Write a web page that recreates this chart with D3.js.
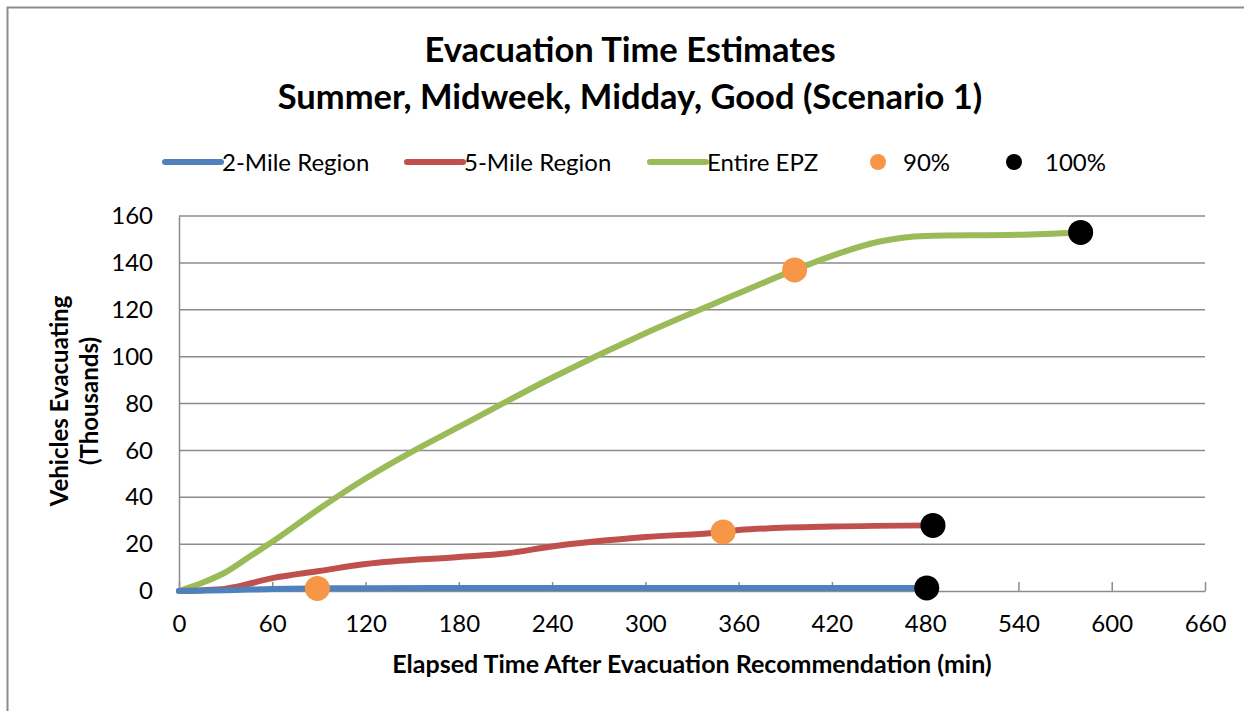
<!DOCTYPE html>
<html>
<head>
<meta charset="utf-8">
<script src="https://cdn.jsdelivr.net/npm/d3@7"></script>
<style>
  body { margin: 0; background: #fff; }
  svg { display: block; font-family: Lato, "Open Sans", sans-serif; }
</style>
</head>
<body>
<div class="chart"></div>
<script>
// data (minutes, thousands of vehicles)
var timeGreen = [0, 15, 30, 45, 60, 90, 120, 150, 180, 240, 300, 360, 396, 420, 450, 480, 540, 580];
var entireEPZ = [0, 3.5, 8, 14.5, 21, 35, 48, 59.5, 70, 91, 110, 127, 137, 143, 149, 151.5, 152, 153];
var timeRed = [0, 30, 60, 90, 120, 180, 210, 240, 300, 350, 360, 420, 485];
var fiveMile = [0, 1, 5.5, 8.5, 11.5, 14.5, 16, 19, 23, 25.2, 26, 27.5, 28];
var timeBlue = [0, 30, 60, 89, 120, 240, 360, 481];
var twoMile = [0, 0.3, 0.9, 1.1, 1.2, 1.25, 1.3, 1.3];
var pct90 = [[89, 1.1], [350, 25.2], [396, 137]];
var pct100 = [[481, 1.3], [485, 28], [580, 153]];
var xTicks = [0, 60, 120, 180, 240, 300, 360, 420, 480, 540, 600, 660];
var yTicks = [0, 20, 40, 60, 80, 100, 120, 140, 160];

var w = 1244, h = 711;
var plotLeft = 179, plotRight = 1205, plotTop = 216, plotBottom = 591;

var svg = d3.select(".chart").append("svg")
  .attr("width", w)
  .attr("height", h);

// chart frame (only left and top edges show)
svg.append("path")
  .attr("d", "M7.5," + h + "V7.5H" + w)
  .attr("fill", "none")
  .attr("stroke", "#8c8c8c")
  .attr("stroke-width", 2);

var x = d3.scaleLinear().domain([0, 660]).range([plotLeft, plotRight]);
var y = d3.scaleLinear().domain([0, 160]).range([plotBottom, plotTop]);

// gridlines
svg.append("g")
  .selectAll("line")
  .data(yTicks.slice(1))
  .enter().append("line")
  .attr("x1", plotLeft).attr("x2", plotRight)
  .attr("y1", function(d) { return y(d); })
  .attr("y2", function(d) { return y(d); })
  .attr("stroke", "#8c8c8c")
  .attr("stroke-width", 1.5);

// y axis
var yAxis = svg.append("g")
  .attr("transform", "translate(" + plotLeft + ",0)")
  .call(d3.axisLeft(y).tickValues(yTicks).tickSize(0).tickPadding(26));
yAxis.select(".domain").attr("stroke", "#8c8c8c").attr("stroke-width", 1.5);
yAxis.selectAll("text").attr("font-size", "24px").attr("fill", "#000")
  .attr("font-family", "Lato, sans-serif");

// x axis, ticks pointing inward
var xAxis = svg.append("g")
  .attr("transform", "translate(0," + plotBottom + ")")
  .call(d3.axisBottom(x).tickValues(xTicks).tickSizeInner(-9).tickSizeOuter(0).tickPadding(24));
xAxis.select(".domain").attr("stroke", "#8c8c8c").attr("stroke-width", 1.5);
xAxis.selectAll(".tick line").attr("stroke", "#8c8c8c").attr("stroke-width", 1.5);
xAxis.selectAll("text").attr("font-size", "24px").attr("fill", "#000")
  .attr("font-family", "Lato, sans-serif");

var line = d3.line()
  .x(function(d) { return x(d[0]); })
  .y(function(d) { return y(d[1]); })
  .curve(d3.curveMonotoneX);

function zip(a, b) {
  return a.map(function(v, i) { return [v, b[i]]; });
}

var series = [
  { name: "Entire EPZ", color: "#9BBB59", pts: zip(timeGreen, entireEPZ) },
  { name: "5-Mile Region", color: "#C0504D", pts: zip(timeRed, fiveMile) },
  { name: "2-Mile Region", color: "#4F81BD", pts: zip(timeBlue, twoMile) }
];

svg.append("g")
  .selectAll("path")
  .data(series)
  .enter().append("path")
  .attr("d", function(d) { return line(d.pts); })
  .attr("fill", "none")
  .attr("stroke", function(d) { return d.color; })
  .attr("stroke-width", 6)
  .attr("stroke-linecap", "round");

svg.append("g")
  .selectAll("circle")
  .data(pct90)
  .enter().append("circle")
  .attr("cx", function(d) { return x(d[0]); })
  .attr("cy", function(d) { return y(d[1]); })
  .attr("r", 12.5)
  .attr("fill", "#F79646");

svg.append("g")
  .selectAll("circle")
  .data(pct100)
  .enter().append("circle")
  .attr("cx", function(d) { return x(d[0]); })
  .attr("cy", function(d) { return y(d[1]); })
  .attr("r", 12.5)
  .attr("fill", "#000");

// titles
svg.append("text")
  .attr("x", 630).attr("y", 62)
  .attr("text-anchor", "middle")
  .attr("font-size", "34.5px").attr("font-weight", "bold")
  .text("Evacuation Time Estimates");
svg.append("text")
  .attr("x", 630).attr("y", 109)
  .attr("text-anchor", "middle")
  .attr("font-size", "34.5px").attr("font-weight", "bold")
  .text("Summer, Midweek, Midday, Good (Scenario 1)");

svg.append("text")
  .attr("x", (plotLeft + plotRight) / 2).attr("y", 673)
  .attr("text-anchor", "middle")
  .attr("font-size", "25px").attr("font-weight", "bold")
  .text("Elapsed Time After Evacuation Recommendation (min)");

var yTitle = svg.append("text")
  .attr("transform", "translate(0,401) rotate(-90)")
  .attr("text-anchor", "middle")
  .attr("font-size", "24px").attr("font-weight", "bold");
yTitle.append("tspan").attr("x", 0).attr("y", 68).text("Vehicles Evacuating");
yTitle.append("tspan").attr("x", 0).attr("y", 98).text("(Thousands)");

// legend
var legendLines = [
  { name: "2-Mile Region", color: "#4F81BD", x: 165 },
  { name: "5-Mile Region", color: "#C0504D", x: 407 },
  { name: "Entire EPZ", color: "#9BBB59", x: 650 }
];
var legendDots = [
  { name: "90%", color: "#F79646", x: 878 },
  { name: "100%", color: "#000", x: 1014 }
];
var ly = 162;

var lg = svg.append("g").attr("class", "legend");
lg.selectAll("line")
  .data(legendLines)
  .enter().append("line")
  .attr("x1", function(d) { return d.x; })
  .attr("x2", function(d) { return d.x + 56; })
  .attr("y1", ly).attr("y2", ly)
  .attr("stroke", function(d) { return d.color; })
  .attr("stroke-width", 6)
  .attr("stroke-linecap", "round");
lg.selectAll("text.ll")
  .data(legendLines)
  .enter().append("text")
  .attr("class", "ll")
  .attr("x", function(d) { return d.x + 57; })
  .attr("y", ly + 9)
  .attr("font-size", "24px")
  .text(function(d) { return d.name; });
lg.selectAll("circle")
  .data(legendDots)
  .enter().append("circle")
  .attr("cx", function(d) { return d.x; })
  .attr("cy", ly)
  .attr("r", 8)
  .attr("fill", function(d) { return d.color; });
lg.selectAll("text.ld")
  .data(legendDots)
  .enter().append("text")
  .attr("class", "ld")
  .attr("x", function(d) { return d.x + 25 + (d.name === "100%" ? 6 : 0); })
  .attr("y", ly + 9)
  .attr("font-size", "24px")
  .text(function(d) { return d.name; });
</script>
</body>
</html>
